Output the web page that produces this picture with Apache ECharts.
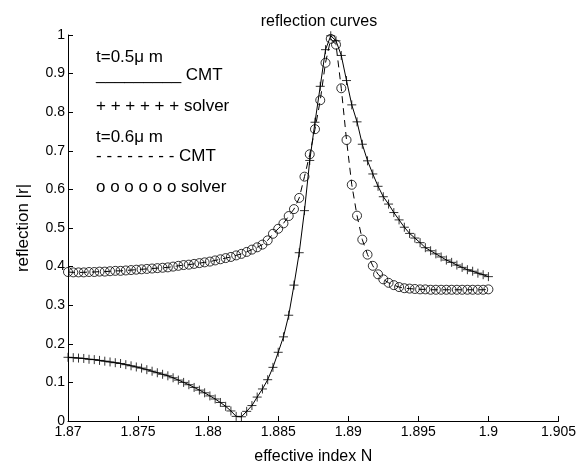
<!DOCTYPE html>
<html>
<head>
<meta charset="utf-8">
<script src="https://cdn.jsdelivr.net/npm/echarts@6/dist/echarts.min.js"></script>
<style>
html, body { margin: 0; background: #fff; }
#chart { width: 579px; height: 470px; }
</style>
</head>
<body>
<div id="chart"></div>
<script>
// effective index grid (solver sampling)
var nStart = 1.87;
var nStep = 0.000375;

// |r| for t = 0.5 um (CMT line + solver markers)
var refl05 = [
    0.165, 0.164, 0.163, 0.162, 0.160, 0.159, 0.157, 0.155, 0.153, 0.151,
    0.149, 0.146, 0.143, 0.140, 0.137, 0.133, 0.129, 0.125, 0.121, 0.117,
    0.112, 0.106, 0.100, 0.094, 0.087, 0.080, 0.073, 0.065, 0.057, 0.048,
    0.038, 0.026, 0.012, 0.011, 0.025, 0.040, 0.062, 0.083, 0.107, 0.139,
    0.178, 0.218, 0.274, 0.352, 0.436, 0.545, 0.675, 0.774, 0.867, 0.962,
    0.998, 0.985, 0.947, 0.882, 0.819, 0.775, 0.717, 0.674, 0.640, 0.608,
    0.581, 0.562, 0.540, 0.521, 0.502, 0.486, 0.474, 0.462, 0.449, 0.441,
    0.433, 0.425, 0.417, 0.411, 0.404, 0.398, 0.392, 0.388, 0.383, 0.379,
    0.374
];

// |r| for t = 0.6 um
var refl06 = [
    0.386, 0.385, 0.385, 0.385, 0.386, 0.386, 0.387, 0.387, 0.388, 0.389,
    0.389, 0.390, 0.391, 0.392, 0.393, 0.394, 0.395, 0.396, 0.397, 0.398,
    0.400, 0.402, 0.404, 0.405, 0.407, 0.409, 0.411, 0.413, 0.416, 0.419,
    0.422, 0.425, 0.429, 0.433, 0.438, 0.444, 0.450, 0.457, 0.468, 0.485,
    0.498, 0.512, 0.531, 0.549, 0.578, 0.633, 0.691, 0.756, 0.831, 0.928,
    0.990, 0.975, 0.862, 0.728, 0.612, 0.532, 0.470, 0.431, 0.402, 0.380,
    0.367, 0.358, 0.352, 0.347, 0.344, 0.343, 0.342, 0.341, 0.341, 0.340,
    0.340, 0.340, 0.340, 0.340, 0.340, 0.340, 0.340, 0.340, 0.340, 0.340,
    0.341
];

// legend text lines (drawn as text, like the original figure)
var legendLines = [
    't=0.5\u03bc m',
    '_________ CMT',
    '+ + + + + + solver',
    't=0.6\u03bc m',
    '- - - - - - - - CMT',
    'o o o o o o solver'
];
var legendY = [57, 75, 106, 137, 156, 187];

function pairs(values) {
    var out = [];
    for (var i = 0; i < values.length; i++) {
        out.push([+(nStart + i * nStep).toFixed(6), values[i]]);
    }
    return out;
}

var font = 'Liberation Sans, Arial, Helvetica, sans-serif';

function Chart() {
    var legendText = legendLines.map(function (t, i) {
        return {
            type: 'text',
            x: 96,
            y: legendY[i],
            style: { text: t, fill: '#000', font: '17px ' + font, verticalAlign: 'middle' }
        };
    });

    var option = {
        animation: false,
        backgroundColor: '#fff',
        title: {
            text: 'reflection curves',
            left: 314,
            textAlign: 'center',
            top: 9,
            textStyle: { color: '#000', fontSize: 16, fontWeight: 'normal', fontFamily: font }
        },
        grid: { left: 68, right: 20, top: 35, bottom: 49 },
        xAxis: {
            type: 'value',
            min: 1.87,
            max: 1.905,
            interval: 0.005,
            name: 'effective index N',
            nameLocation: 'middle',
            nameGap: 28,
            nameTextStyle: { color: '#000', fontSize: 16, fontFamily: font },
            axisLine: { lineStyle: { color: '#000', width: 1 } },
            axisTick: { inside: true, length: 5, lineStyle: { color: '#000' } },
            axisLabel: { color: '#000', fontSize: 14, fontFamily: font, margin: 4 },
            splitLine: { show: false }
        },
        yAxis: {
            type: 'value',
            min: 0,
            max: 1,
            interval: 0.1,
            name: 'reflection |r|',
            nameLocation: 'middle',
            nameGap: 36,
            nameTextStyle: { color: '#000', fontSize: 17, fontFamily: font },
            axisLine: { show: true, lineStyle: { color: '#000', width: 1 } },
            axisTick: { show: true, inside: true, length: 5, lineStyle: { color: '#000' } },
            axisLabel: { color: '#000', fontSize: 14, fontFamily: font, margin: 3 },
            splitLine: { show: false }
        },
        graphic: legendText,
        series: [{
            name: 'CMT t=0.5',
            type: 'line',
            data: pairs(refl05),
            showSymbol: false,
            lineStyle: { color: '#000', width: 1 }
        }, {
            name: 'CMT t=0.6',
            type: 'line',
            data: pairs(refl06),
            showSymbol: false,
            lineStyle: { color: '#000', width: 1, type: [7, 5] }
        }, {
            name: 'solver t=0.5',
            type: 'scatter',
            data: pairs(refl05),
            symbol: 'path://M0,5L10,5M5,0L5,10',
            symbolSize: 9,
            itemStyle: { color: 'rgba(0,0,0,0)', borderColor: '#000', borderWidth: 1 }
        }, {
            name: 'solver t=0.6',
            type: 'scatter',
            data: pairs(refl06),
            symbol: 'circle',
            symbolSize: 9,
            itemStyle: { color: 'rgba(0,0,0,0)', borderColor: '#000', borderWidth: 1 }
        }]
    };
    var myChart = echarts.init(document.querySelector('#chart'), null, { renderer: 'canvas' });
    myChart.setOption(option);
}

Chart();
</script>
</body>
</html>
